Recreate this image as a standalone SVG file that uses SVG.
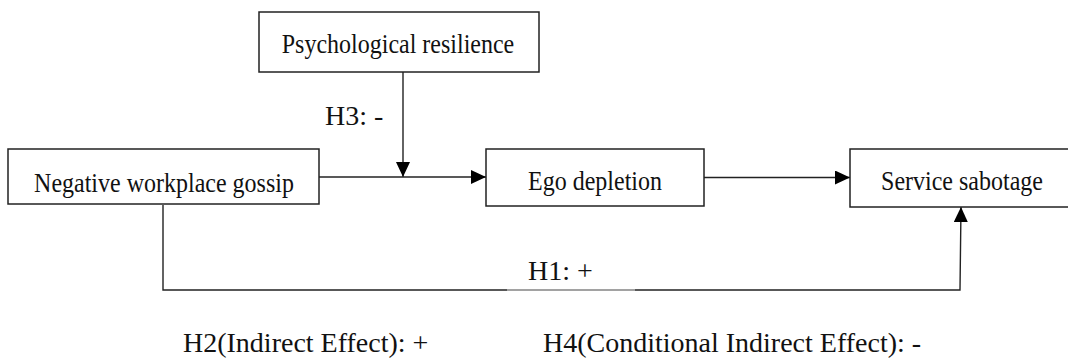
<svg xmlns="http://www.w3.org/2000/svg" width="1068" height="363" viewBox="0 0 1068 363">
<style>
.box{fill:#fff;stroke:#222;stroke-width:1.5}
.t{font-family:"Liberation Serif","Times New Roman",serif;font-size:24px;fill:#111;text-anchor:middle}
.lbl{font-family:"Liberation Serif","Times New Roman",serif;font-size:28px;fill:#111}
.c{fill:none;stroke:#222;stroke-width:1.4}
</style>
<defs>
<marker id="ah" markerUnits="userSpaceOnUse" markerWidth="15" markerHeight="14" refX="15" refY="7" orient="auto">
<path d="M0,0 L15,7 L0,14 z" fill="#000"/>
</marker>
</defs>
<rect width="1068" height="363" fill="#fff"/>
<g id="connectors">
<line class="c" x1="403" y1="72" x2="403" y2="177" marker-end="url(#ah)"/>
<line class="c" x1="319" y1="177" x2="486" y2="177" marker-end="url(#ah)"/>
<line class="c" x1="704" y1="177.5" x2="850" y2="177.5" marker-end="url(#ah)"/>
<path class="c" d="M163,205 L163,290 L960,290 L961,207" marker-end="url(#ah)"/>
<line x1="507" y1="290" x2="635" y2="290" stroke="#bbb" stroke-width="1.6"/>
</g>
<g id="psychological-resilience">
<rect class="box" x="259" y="12" width="280" height="60"/>
<text class="t" transform="translate(398,53) scale(1,1.12)">Psychological resilience</text>
</g>
<g id="negative-workplace-gossip">
<rect class="box" x="8" y="149" width="311" height="55"/>
<text class="t" transform="translate(164,192) scale(1,1.12)">Negative workplace gossip</text>
</g>
<g id="ego-depletion">
<rect class="box" x="486" y="149" width="218" height="57"/>
<text class="t" transform="translate(595,190) scale(1,1.12)">Ego depletion</text>
</g>
<g id="service-sabotage">
<rect class="box" x="850" y="149" width="224" height="58"/>
<text class="t" transform="translate(962,190) scale(1,1.12)">Service sabotage</text>
</g>
<g id="labels">
<text class="lbl" x="325" y="125">H3: -</text>
<text class="lbl" x="528" y="280">H1: +</text>
<text class="lbl" x="183" y="352">H2(Indirect Effect): +</text>
<text class="lbl" x="543" y="352">H4(Conditional Indirect Effect): -</text>
</g>
</svg>
